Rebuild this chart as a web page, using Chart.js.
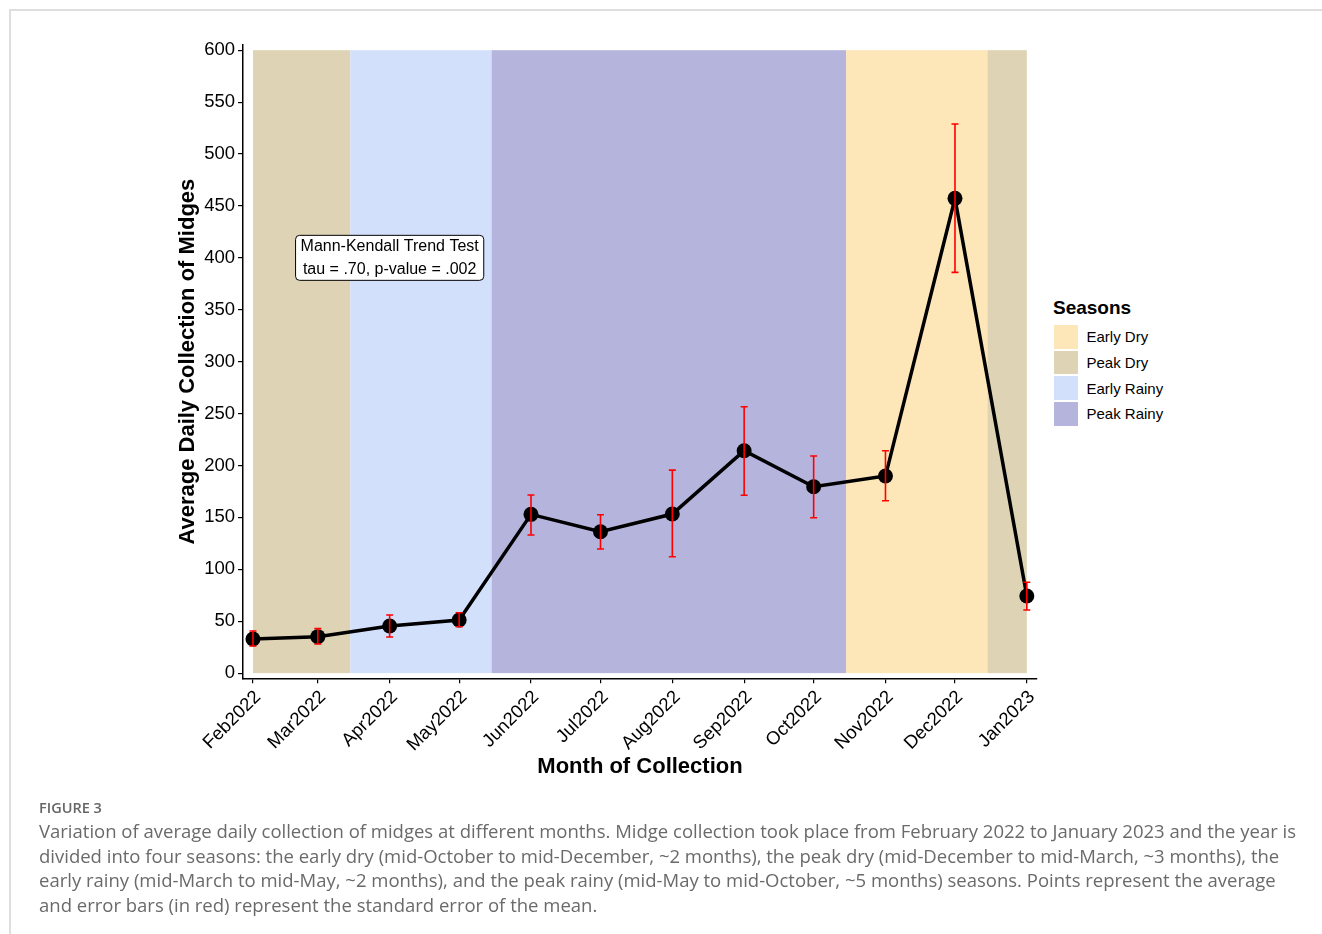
<!DOCTYPE html>
<html><head><meta charset="utf-8">
<script src="https://cdn.jsdelivr.net/npm/chart.js@4.4.0/dist/chart.umd.min.js"></script>
<style>
html,body{margin:0;padding:0;background:#fff;width:1322px;height:934px;overflow:hidden;}
#frame{position:absolute;left:9px;top:9px;width:1400px;height:1000px;border-top:2px solid #dedede;border-left:2px solid #dedede;}
#wrap{position:absolute;left:0;top:0;width:1050px;height:800px;}
#legend{position:absolute;left:1053px;top:296px;font-family:"Liberation Sans",Arial,sans-serif;color:#000;}
#legend .ttl{font-weight:bold;font-size:19px;line-height:24px;height:28px;}
#legend .row{height:25.7px;display:flex;align-items:center;font-size:15px;}
#legend .key{width:23.5px;height:23.5px;margin-left:1px;margin-right:9px;}
#cap{position:absolute;left:39px;top:797px;font-family:"Open Sans",sans-serif;color:#6a6a6a;white-space:nowrap;}
#cap .fig{font-size:14.5px;font-weight:600;line-height:22px;color:#666;}
#cap .txt{font-size:18.5px;line-height:24.5px;}
</style></head>
<body>
<div id="frame"></div>
<div id="wrap"><canvas id="c" width="1050" height="800"></canvas></div>
<div id="legend"></div>
<div id="cap">
<div class="fig">FIGURE 3</div>
<div class="txt">Variation of average daily collection of midges at different months. Midge collection took place from February 2022 to January 2023 and the year is<br>divided into four seasons: the early dry (mid-October to mid-December, ~2 months), the peak dry (mid-December to mid-March, ~3 months), the<br>early rainy (mid-March to mid-May, ~2 months), and the peak rainy (mid-May to mid-October, ~5 months) seasons. Points represent the average<br>and error bars (in red) represent the standard error of the mean.</div>
</div>
<script>
// ---- data ----
const months = ['Feb2022','Mar2022','Apr2022','May2022','Jun2022','Jul2022','Aug2022','Sep2022','Oct2022','Nov2022','Dec2022','Jan2023'];
const monthDay = [0,28,59,89,120,150,181,212,242,273,303,334]; // days since 1 Feb 2022
const meanCount = [32.8,35.1,45.4,51.1,152.9,136.2,153.2,214.2,179.5,189.8,457.3,74.3];
const seUpper = [40.5,42.8,56.0,58.2,171.5,152.6,195.5,256.6,209.1,214.2,528.9,87.5];
const seLower = [26.1,28.0,34.8,44.7,133.0,119.5,112.1,171.3,149.7,166.0,386.0,60.8];
const yTicks = [0,50,100,150,200,250,300,350,400,450,500,550,600];
const seasonNames = ['Early Dry','Peak Dry','Early Rainy','Peak Rainy'];
const seasonColors = ['#fde6b8','#ded3b5','#d3e0fb','#b4b4dd'];
const bandStart = [0,42,103,256,317];
const bandEnd = [42,103,256,317,334];
const bandSeason = [1,2,3,0,1];
const bandTop = 600, bandBottom = 0;
const annotX = 59, annotY = 400;
const annotLines = ['Mann-Kendall Trend Test','tau = .70, p-value = .002'];

const FONT = '"Liberation Sans", Arial, sans-serif';

// legend
const lg = document.getElementById('legend');
let h = '<div class="ttl">Seasons</div>';
seasonNames.forEach((n,i)=>{h += '<div class="row"><div class="key" style="background:'+seasonColors[i]+'"></div>'+n+'</div>';});
lg.innerHTML = h;

const bandsPlugin = {
  id:'bands',
  beforeDatasetsDraw(chart){
    const {ctx, scales:{x,y}} = chart;
    ctx.save();
    for(let i=0;i<bandStart.length;i++){
      const l = x.getPixelForValue(bandStart[i]), r = x.getPixelForValue(bandEnd[i]);
      const t = y.getPixelForValue(bandTop), b = y.getPixelForValue(bandBottom);
      ctx.fillStyle = seasonColors[bandSeason[i]];
      ctx.fillRect(l,t,r-l,b-t);
    }
    ctx.restore();
  }
};
const errPlugin = {
  id:'err',
  afterDatasetsDraw(chart){
    const {ctx, scales:{x,y}} = chart;
    ctx.save();
    ctx.strokeStyle = '#ff0000';
    ctx.lineWidth = 1.6;
    for(let i=0;i<months.length;i++){
      const px = x.getPixelForValue(monthDay[i]);
      const t = y.getPixelForValue(seUpper[i]), b = y.getPixelForValue(seLower[i]);
      ctx.beginPath();
      ctx.moveTo(px,t); ctx.lineTo(px,b);
      ctx.moveTo(px-3.5,t); ctx.lineTo(px+3.5,t);
      ctx.moveTo(px-3.5,b); ctx.lineTo(px+3.5,b);
      ctx.stroke();
    }
    // annotation label
    const cx = x.getPixelForValue(annotX), cy = y.getPixelForValue(annotY);
    ctx.font = '16px ' + FONT;
    const w = Math.max(...annotLines.map(s=>ctx.measureText(s).width)) + 10;
    const hh = 45;
    const lx = cx - w/2, ty = cy - hh/2, r = 4;
    ctx.beginPath();
    ctx.moveTo(lx+r,ty); ctx.lineTo(lx+w-r,ty); ctx.arcTo(lx+w,ty,lx+w,ty+r,r);
    ctx.lineTo(lx+w,ty+hh-r); ctx.arcTo(lx+w,ty+hh,lx+w-r,ty+hh,r);
    ctx.lineTo(lx+r,ty+hh); ctx.arcTo(lx,ty+hh,lx,ty+hh-r,r);
    ctx.lineTo(lx,ty+r); ctx.arcTo(lx,ty,lx+r,ty,r);
    ctx.closePath();
    ctx.fillStyle = '#fff'; ctx.fill();
    ctx.strokeStyle = '#000'; ctx.lineWidth = 1; ctx.stroke();
    ctx.fillStyle = '#000'; ctx.textAlign = 'center'; ctx.textBaseline = 'middle';
    ctx.fillText(annotLines[0], cx, cy - 11.5);
    ctx.fillText(annotLines[1], cx, cy + 11.5);
    ctx.restore();
  }
};

new Chart(document.getElementById('c'), {
  type:'line',
  data:{
    datasets:[{
      data: months.map((m,i)=>({x:monthDay[i], y:meanCount[i]})),
      borderColor:'#000', borderWidth:3.5,
      pointRadius:7.5, pointHoverRadius:7.5, pointBackgroundColor:'#000', pointBorderColor:'#000', pointBorderWidth:0,
      tension:0
    }]
  },
  options:{
    responsive:false, animation:false,
    layout:{padding:{top:45,left:175,right:13,bottom:20}},
    plugins:{legend:{display:false}, tooltip:{enabled:false}},
    scales:{
      x:{
        type:'linear', min:-4.3, max:338.4,
        afterBuildTicks(s){ s.ticks = monthDay.map(v=>({value:v})); },
        afterFit(s){ s.height = 101.7; s.paddingLeft = 0; s.paddingRight = 0; },
        ticks:{ autoSkip:false, minRotation:45, maxRotation:45, color:'#000', padding:3, labelOffset:5,
          font:{family:FONT, size:18.5},
          callback:(v)=>months[monthDay.indexOf(v)] },
        grid:{ drawOnChartArea:false, drawTicks:true, tickLength:5, color:'#000', lineWidth:1.2 },
        border:{ display:true, color:'#000', width:1.5 },
        title:{ display:true, text:'Month of Collection', color:'#000', padding:0,
          font:{family:FONT, size:22, weight:'bold'} }
      },
      y:{
        type:'linear', min:-5, max:605,
        afterBuildTicks(s){ s.ticks = yTicks.map(v=>({value:v})); },
        afterFit(s){ s.width = 68; s.paddingTop = 0; s.paddingBottom = 0; },
        ticks:{ color:'#000', padding:3, font:{family:FONT, size:18.5} },
        grid:{ drawOnChartArea:false, drawTicks:true, tickLength:5, color:'#000', lineWidth:1.2 },
        border:{ display:true, color:'#000', width:1.5 },
        title:{ display:true, text:'Average Daily Collection of Midges', color:'#000', padding:0,
          font:{family:FONT, size:22, weight:'bold'} }
      }
    }
  },
  plugins:[bandsPlugin, errPlugin]
});
</script>
</body></html>
